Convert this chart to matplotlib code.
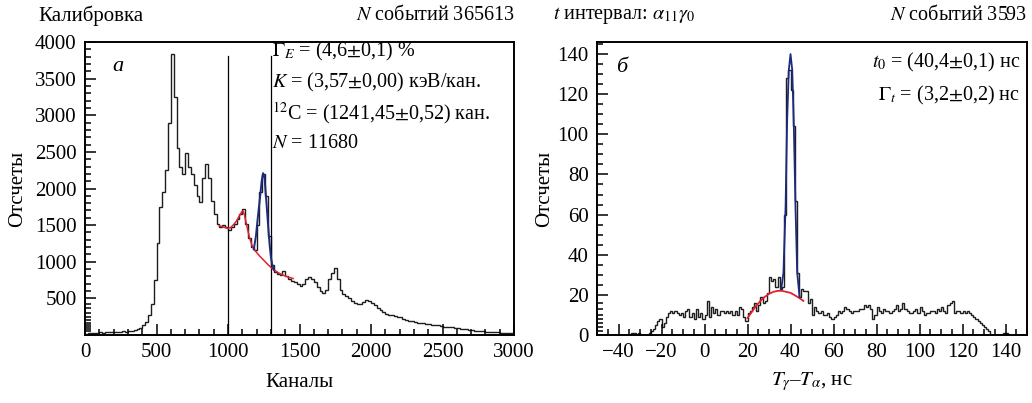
import numpy as np
import matplotlib
matplotlib.use("Agg")
import matplotlib.pyplot as plt
from matplotlib.ticker import MultipleLocator, FixedLocator

plt.rcParams["font.family"] = ["Liberation Serif", "DejaVu Serif"]
plt.rcParams["mathtext.fontset"] = "stix"

# ---- panel a: calibration spectrum (20-channel bins, start at 0) ----
chan_bin = 20
chan_counts = [
    20, 25, 30, 25, 30, 35, 30, 35, 40, 35,
    40, 45, 40, 50, 45, 55, 60, 70, 80, 100,
    130, 180, 280, 420, 750, 1250, 1750, 1950, 2250, 2900,
    3830, 3250, 2550, 2300, 2200, 2480, 2300, 2200, 2050, 1900,
    1820, 2150, 2340, 2150, 1830, 1650, 1520, 1480, 1500, 1470,
    1440, 1470, 1520, 1580, 1650, 1720, 1520, 1330, 1200, 1160,
    1500, 1950, 2200, 1900, 1350, 950, 860, 830, 820, 870,
    800, 770, 740, 720, 700, 670, 700, 760, 790, 770,
    720, 650, 600, 570, 620, 760, 850, 920, 760, 620,
    560, 530, 500, 470, 440, 420, 430, 450, 480, 460,
    440, 410, 370, 340, 320, 290, 280, 270, 255, 250,
    240, 225, 205, 195, 185, 180, 170, 165, 160, 155,
    145, 140, 135, 130, 125, 115, 112, 108, 104, 100,
    92, 85, 80, 78, 70, 62, 60, 56, 52, 50,
    47, 45, 42, 40, 36, 33, 31, 28, 26, 24,
]
cal_lines = [1000, 1300]

# fit curves
red_a_x = [940, 960, 980, 1000, 1020, 1040, 1060, 1080, 1095, 1105, 1115, 1130,
           1150, 1170, 1190, 1220, 1250, 1280, 1310, 1340, 1370, 1400, 1430, 1455]
red_a_y = [1490, 1480, 1465, 1455, 1470, 1510, 1560, 1630, 1680, 1690, 1640, 1500,
           1330, 1210, 1150, 1080, 1020, 960, 905, 865, 830, 805, 785, 772]
blue_a_x = [1180, 1195, 1210, 1225, 1235, 1245, 1255, 1265, 1280, 1290, 1300, 1310, 1320]
blue_a_y = [1170, 1350, 1640, 1900, 2100, 2210, 2150, 1900, 1500, 1250, 1060, 950, 890]

# ---- panel b: time spectrum (1 ns bins, start at -50) ----
t_start = -50
t_counts = (
    [0] * 15 +
    [0, 1, 1, 0, 1, 0, 0, 0, 0] +                       # -35 .. -27
    [1, 2, 3, 5, 7, 8, 4, 6, 9, 11, 12, 11, 12, 11, 10,  # -26 .. -12
     11, 9, 12, 13, 9, 11, 8, 13, 9, 11, 8] +           # -11 .. -1
    [10, 17, 9, 14, 11, 13, 10, 12, 12, 11,              # 0 .. 9
     12, 11, 12, 10, 12, 10, 14, 13, 9, 7,               # 10 .. 19
     11, 12, 14, 16, 12, 15, 19, 16, 17, 21,             # 20 .. 29
     29, 27, 28, 24, 29, 23, 24, 60, 128, 132,           # 30 .. 39
     122, 104, 67, 31, 19, 23, 22, 22, 16, 18,           # 40 .. 49
     10, 14, 12, 11, 12, 10, 10, 11, 9, 8,               # 50 .. 59
     9, 10, 12, 11, 12, 14, 13, 12, 11, 12,              # 60 .. 69
     12, 12, 13, 13, 15, 14, 15, 13, 8, 10,              # 70 .. 79
     14, 12, 11, 13, 12, 12, 11, 12, 13, 15,             # 80 .. 89
     12, 13, 16, 13, 12, 11, 11, 12, 13, 11,             # 90 .. 99
     14, 12, 10, 11, 11, 12, 12, 11, 13, 12,             # 100 .. 109
     14, 12, 11, 15, 16, 17, 11, 12, 12, 11,             # 110 .. 119
     12, 11, 12, 11, 10, 9, 8, 7, 6, 5,                  # 120 .. 129
     4, 3, 2, 0, 0, 0, 0, 0, 0, 1,                       # 130 .. 139
     1, 0, 0, 0, 0, 0, 0, 0, 0, 0]                       # 140 .. 149
)

red_b_x = [20, 22, 24, 26, 28, 30, 32, 34, 36, 38, 40, 42, 44, 46]
red_b_y = [8.5, 11.5, 14.5, 17, 19, 20.5, 21.5, 22, 22, 21.5, 21, 19.8, 18.5, 17]
blue_b_x = [35.7, 36.7, 37.7, 38.4, 39.2, 40.0, 40.8, 41.5, 42.3, 43.1, 44.2]
blue_b_y = [23, 31, 64, 106, 132, 140, 132, 106, 64, 31, 19]

FS = 15
HIST_C = "#1e1e1e"
RED = "#e3202b"
BLUE = "#1c2a80"

fig = plt.figure(figsize=(10.32, 4.03), dpi=100)
ax1 = fig.add_axes([0.0824, 0.1687, 0.4157, 0.7271])
ax2 = fig.add_axes([0.5785, 0.1687, 0.4167, 0.7271])


def step_hist(ax, start, width, counts):
    edges = start + width * np.arange(len(counts) + 1)
    ax.stairs(counts, edges, color=HIST_C, lw=1.0)


def style_axes(ax):
    for s in ax.spines.values():
        s.set_linewidth(1.4)
    ax.tick_params(axis="both", which="both", direction="in", top=False, right=False,
                   labelsize=FS, width=1.1)
    ax.tick_params(which="major", length=8, pad=6)
    ax.tick_params(which="minor", length=4.5)


# panel a
step_hist(ax1, 0, chan_bin, chan_counts)
for xl in cal_lines:
    ax1.plot([xl, xl], [0, 3810], color="black", lw=0.9)
ax1.plot(red_a_x, red_a_y, color=RED, lw=1.1)
ax1.plot(blue_a_x, blue_a_y, color=BLUE, lw=1.4)
ax1.set_xlim(0, 3000)
ax1.set_ylim(0, 4000)
ax1.xaxis.set_major_locator(MultipleLocator(500))
ax1.xaxis.set_minor_locator(MultipleLocator(100))
ax1.set_yticks([500, 1000, 1500, 2000, 2500, 3000, 3500, 4000])
ax1.yaxis.set_minor_locator(FixedLocator(
    list(range(600, 4000, 100)) + [430, 365, 300, 250, 205, 168, 136, 105, 78, 55]))
style_axes(ax1)

ax1.text(0.077, 0.918, "а", transform=ax1.transAxes, fontsize=FS + 1,
         fontstyle="italic", ha="center", va="center")
stats_a = [r"$\Gamma_E$ = (4,6$\pm$0,1) %",
           r"$K$ = (3,57$\pm$0,00) кэВ/кан.",
           r"$^{12}$C = (1241,45$\pm$0,52) кан.",
           r"$N$ = 11680"]
for i, s in enumerate(stats_a):
    ax1.text(0.436, 0.968 - i * 0.105, s, transform=ax1.transAxes, fontsize=FS - 0.5,
             ha="left", va="center")

# panel b
step_hist(ax2, t_start, 1, t_counts)
ax2.plot(red_b_x, red_b_y, color=RED, lw=1.3)
ax2.plot(blue_b_x, blue_b_y, color=BLUE, lw=1.3)
ax2.set_xlim(-50, 150)
ax2.set_ylim(0, 146)
ax2.xaxis.set_major_locator(MultipleLocator(20))
ax2.xaxis.set_minor_locator(MultipleLocator(5))
ax2.set_yticks([0, 20, 40, 60, 80, 100, 120, 140])
ax2.yaxis.set_minor_locator(FixedLocator(
    list(range(25, 146, 5)) + [16, 13, 10, 8, 6, 4, 2]))
style_axes(ax2)

ax2.text(0.058, 0.912, "б", transform=ax2.transAxes, fontsize=FS + 1,
         fontstyle="italic", ha="center", va="center")
ax2.text(0.984, 0.93, r"$t_0$ = (40,4$\pm$0,1) нс", transform=ax2.transAxes,
         fontsize=FS - 0.5, ha="right", va="center")
ax2.text(0.984, 0.818, r"$\Gamma_t$ = (3,2$\pm$0,2) нс", transform=ax2.transAxes,
         fontsize=FS - 0.5, ha="right", va="center")

# titles and axis labels
fig.text(0.0368, 0.962, "Калибровка", fontsize=FS, ha="left", va="center")
fig.text(0.499, 0.962, r"$N$ событий 365613", fontsize=FS - 0.5, ha="right", va="center")
fig.text(0.536, 0.962, r"$t$ интервал: $\alpha_{11}\gamma_0$", fontsize=FS - 0.5,
         ha="left", va="center")
fig.text(0.995, 0.962, r"$N$ событий 3593", fontsize=FS - 0.5, ha="right", va="center")

fig.text(0.0174, 0.532, "Отсчеты", fontsize=FS, rotation=90, ha="center", va="center")
fig.text(0.528, 0.532, "Отсчеты", fontsize=FS, rotation=90, ha="center", va="center")
fig.text(0.29, 0.052, "Каналы", fontsize=FS, ha="center", va="center")
fig.text(0.787, 0.052, r"$T_\gamma$–$T_\alpha$, нс", fontsize=FS, ha="center",
         va="center")

fig.savefig("out.png", dpi=100)
